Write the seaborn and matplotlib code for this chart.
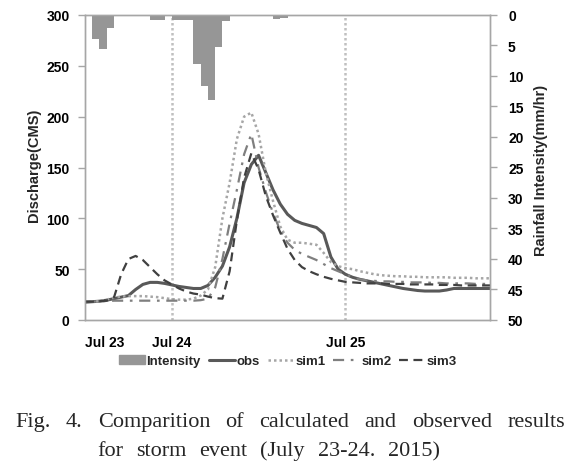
import matplotlib
matplotlib.use("Agg")
import matplotlib.dates as mdates
import matplotlib.pyplot as plt
import numpy as np
import pandas as pd
import seaborn as sns
from matplotlib.lines import Line2D
from matplotlib.patches import Patch

# hourly series, Jul 23 12:00 -> Jul 25 20:00
start = "2015-07-23 12:00"
n_hours = 57

rain = [0, 4.0, 5.5, 2.2, 0, 0, 0, 0, 0, 0.8,
        0.8, 0, 0.8, 0.8, 0.8, 8.0, 11.7, 14.0, 5.3, 1.0,
        0.2, 0.2, 0.2, 0.2, 0.2, 0.2, 0.7, 0.5, 0, 0,
        0, 0, 0, 0, 0, 0, 0, 0, 0, 0,
        0, 0, 0, 0, 0, 0, 0, 0, 0, 0,
        0, 0, 0, 0, 0, 0, 0]

obs = [17.5, 18, 18.5, 19.5, 21, 22.5, 24, 30, 35, 37,
       37, 36, 34.5, 33, 32, 31, 31, 34, 42, 53,
       72, 100, 135, 153, 162, 145, 128, 114, 104, 98,
       95, 93, 91, 85, 62, 50, 45, 42, 40, 38.5,
       37, 35.5, 34, 32.5, 31, 30, 29, 28.5, 28.5, 28.5,
       29.5, 31, 31, 31, 31, 31, 31]

sim1 = [18, 18, 18.5, 20, 22, 23, 23.5, 23.5, 23.5, 23,
        22.5, 21.5, 20.5, 20, 20, 21, 24, 30, 52, 100,
        135, 178, 200, 204, 183, 145, 117, 92, 79, 76,
        76, 75, 74, 66, 57, 53, 51, 50, 48, 46.5,
        45, 44, 43.5, 43, 43, 42.5, 42.5, 42, 42, 42,
        42, 41.5, 41.5, 41.5, 41, 41, 41]

sim2 = [18, 18, 18.5, 18.5, 19, 19, 19, 19, 19, 19,
        19, 19, 19, 19, 19, 19, 19.5, 21, 32, 60,
        95, 128, 163, 183, 150, 126, 105, 88, 76, 69,
        65, 62, 59, 55, 51, 48, 45, 42, 40, 39,
        38.5, 38, 38, 37.5, 37.5, 37, 37, 37, 36.5, 36.5,
        36, 36, 36, 36, 35.5, 35.5, 35.5]

sim3 = [18, 18, 18.5, 19, 22, 45, 60, 63, 59, 52,
        45, 39, 35, 31, 28, 26, 25, 23, 21.5, 21,
        48, 98, 140, 164, 148, 122, 103, 86, 70, 59,
        52, 48, 45, 42.5, 40.5, 39, 37.5, 37, 36.5, 36,
        36, 36, 35.5, 35.5, 35.5, 35, 35, 35, 35, 34.5,
        34.5, 34.5, 34, 34, 34, 34, 34]

day_marks = ["2015-07-24", "2015-07-25"]
day_labels = ["Jul 23", "Jul 24", "Jul 25"]

caption1 = "Fig. 4. Comparition of calculated and observed results"
caption2 = "for storm event (July 23-24. 2015)"

times = pd.date_range(start, periods=n_hours, freq="h")
df = pd.DataFrame({"time": times, "rain": rain, "obs": obs,
                   "sim1": sim1, "sim2": sim2, "sim3": sim3})

sns.set_theme(style="white")
plt.rcParams["font.family"] = ["Liberation Sans", "DejaVu Sans"]
plt.rcParams["font.weight"] = "bold"

W, H = 581, 464
fig = plt.figure(figsize=(W / 100, H / 100), dpi=100)
ax = fig.add_axes([85 / W, 1 - 321 / H, 405 / W, 305 / H])
ax2 = ax.twinx()

grid_c = "#a6a6a6"
styles = {
    "obs": dict(color="#595959", linewidth=2.2, linestyle="-"),
    "sim1": dict(color="#a6a6a6", linewidth=1.8, linestyle=(0, (1, 1.2))),
    "sim2": dict(color="#7f7f7f", linewidth=1.6, linestyle=(0, (5, 3, 1.2, 3))),
    "sim3": dict(color="#404040", linewidth=1.6, linestyle=(0, (4, 2.5))),
}

for m in day_marks:
    ax.axvline(pd.Timestamp(m), color="#c0c0c0", linestyle=(0, (1, 1)),
               linewidth=1.8, zorder=1)

for name, st in styles.items():
    sns.lineplot(data=df, x="time", y=name, ax=ax, zorder=3, **st)

ax2.bar(df["time"], df["rain"], width=1 / 24, align="edge",
        color="#969696", edgecolor="none", zorder=2)

ax.set_xlim(times[0], times[-1])
ax.set_ylim(0, 300)
ax.set_yticks(range(0, 301, 50))
ax2.set_ylim(50, 0)
ax2.set_yticks(range(0, 51, 5))

ax.set_xticks([times[0]] + [pd.Timestamp(m) for m in day_marks])
ax.set_xticklabels(day_labels)
ax.get_xticklabels()[0].set_ha("left")
ax.xaxis.set_minor_locator(mdates.HourLocator(byhour=range(0, 24, 2)))

ax.set_xlabel("")
ax.set_ylabel("")
ax2.set_ylabel("")

for a in (ax, ax2):
    for s in a.spines.values():
        s.set_color(grid_c)
        s.set_linewidth(1)
    a.tick_params(axis="both", which="both", color=grid_c, length=5,
                  width=1, labelsize=10, labelcolor="black", direction="out")
    for lab in a.get_xticklabels() + a.get_yticklabels():
        lab.set_fontweight("bold")
ax.tick_params(axis="x", which="major", pad=6)
ax.tick_params(axis="y", pad=6)
ax2.tick_params(axis="y", pad=8)
ax.grid(False)
ax2.grid(False)

fig.text(34 / W, 1 - 165 / H, "Discharge(CMS)", rotation=90, ha="center",
         va="center", fontsize=10.5, fontweight="bold")
fig.text(541 / W, 1 - 170 / H, "Rainfall Intensity(mm/hr)", rotation=90,
         ha="center", va="center", fontsize=10.5, fontweight="bold")

handles = [Patch(color="#969696")]
labels = ["Intensity"]
for name, st in styles.items():
    handles.append(Line2D([], [], **st))
    labels.append(name)
fig.legend(handles, labels, loc="center", bbox_to_anchor=(288 / W, 1 - 362 / H),
           ncol=5, frameon=False, handlelength=2.0, handletextpad=0.1,
           columnspacing=0.6, prop={"size": 9.5, "weight": "bold"})


def justify(text, x0, x1, y):
    words = text.split()
    items = [fig.text(0, 1 - y / H, w, fontsize=16, family="Liberation Serif",
                      fontweight="normal", va="baseline") for w in words]
    r = fig.canvas.get_renderer()
    widths = [t.get_window_extent(r).width for t in items]
    gap = (x1 - x0 - sum(widths)) / (len(words) - 1)
    x = x0
    for t, w in zip(items, widths):
        t.set_x(x / W)
        x += w + gap


justify(caption1, 15, 565, 427)
justify(caption2, 97, 440, 456)

fig.savefig("out.png", dpi=100)
